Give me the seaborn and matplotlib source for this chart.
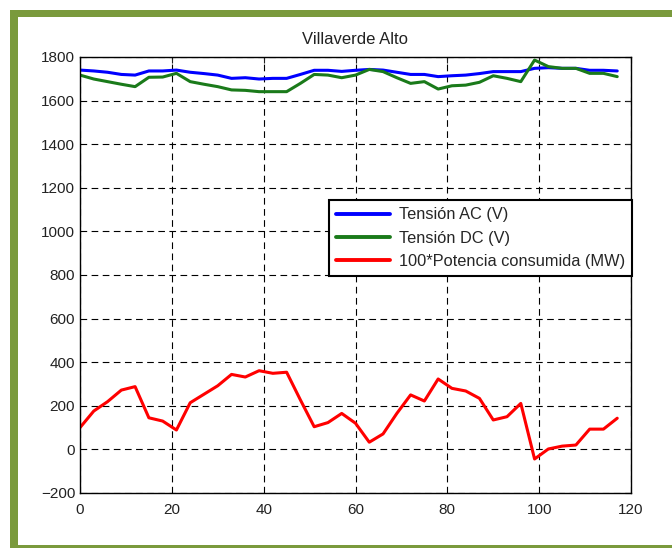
import numpy as np
import pandas as pd
import matplotlib
matplotlib.use("Agg")
import matplotlib.pyplot as plt
import seaborn as sns
from matplotlib.patches import Rectangle

# ---- data ----
t = list(range(0, 118, 3))
tension_ac = [1740, 1736, 1730, 1720, 1717, 1736, 1736, 1740, 1730, 1724,
              1717, 1702, 1705, 1699, 1702, 1702, 1720, 1739, 1739, 1734,
              1739, 1743, 1740, 1730, 1720, 1720, 1710, 1714, 1717, 1724,
              1733, 1733, 1733, 1748, 1751, 1748, 1748, 1739, 1739, 1736]
tension_dc = [1717, 1699, 1687, 1675, 1664, 1707, 1708, 1725, 1687, 1675,
              1664, 1649, 1647, 1641, 1641, 1641, 1679, 1720, 1717, 1705,
              1717, 1743, 1733, 1705, 1679, 1687, 1653, 1668, 1671, 1684,
              1714, 1702, 1687, 1786, 1756, 1748, 1748, 1725, 1725, 1710]
potencia = [100, 176, 219, 272, 288, 145, 130, 89, 214, 253,
            292, 344, 332, 361, 349, 354, 227, 104, 123, 165,
            120, 33, 71, 165, 250, 222, 323, 280, 268, 234,
            135, 150, 211, -44, 2, 15, 20, 93, 93, 143]
labels = ["Tensión AC (V)", "Tensión DC (V)", "100*Potencia consumida (MW)"]
colors = ["#0000ff", "#1a7a1a", "#ff0000"]
title = "Villaverde Alto"
xticks = [0, 20, 40, 60, 80, 100, 120]
yticks = [-200, 0, 200, 400, 600, 800, 1000, 1200, 1400, 1600, 1800]

sns.set_style("white")
plt.rcParams['font.family'] = ['Liberation Sans', 'DejaVu Sans']

fig = plt.figure(figsize=(6.72, 5.48), dpi=100)
fig.patch.set_facecolor("white")

# green frame
frame_col = "#7a9a3c"
fig.patches.append(Rectangle((10/672, 1-17/548), 662/672, 7/548, transform=fig.transFigure,
                             facecolor=frame_col, edgecolor="none", zorder=0))
fig.patches.append(Rectangle((10/672, 1-546/548), 8/672, 536/548, transform=fig.transFigure,
                             facecolor=frame_col, edgecolor="none", zorder=0))
fig.patches.append(Rectangle((10/672, 0), 662/672, 3/548, transform=fig.transFigure,
                             facecolor=frame_col, edgecolor="none", zorder=0))

ax = fig.add_axes([80/672, 1-493/548, (631-80)/672, (493-57)/548])

for vals, lab, col in zip([tension_ac, tension_dc, potencia], labels, colors):
    df = pd.DataFrame({"t": t, "v": vals})
    sns.lineplot(data=df, x="t", y="v", ax=ax, color=col, linewidth=2.2, label=lab)

ax.set_xlim(0, 120)
ax.set_ylim(-200, 1800)
ax.set_xticks(xticks)
ax.set_yticks(yticks)
ax.set_xlabel("")
ax.set_ylabel("")
ax.set_title(title, fontsize=12, pad=9, color="#222222")
ax.grid(True, color="black", linestyle=(0, (6, 4)), linewidth=0.8)
ax.tick_params(direction="in", top=True, right=True, length=4, labelsize=11, colors="#222222")
ax.tick_params(axis="x", pad=7)
for s in ax.spines.values():
    s.set_color("black")
    s.set_linewidth(1.0)

leg = ax.legend(loc="upper right", bbox_to_anchor=(1.002, 0.672), frameon=True, fancybox=False,
                framealpha=1, edgecolor="black", fontsize=11.8, handlelength=3.3,
                borderaxespad=0, labelspacing=0.5, handletextpad=0.5, borderpad=0.45)
leg.get_frame().set_linewidth(1.5)
for h in leg.get_lines():
    h.set_linewidth(2.8)

fig.savefig("out.png", dpi=100)
